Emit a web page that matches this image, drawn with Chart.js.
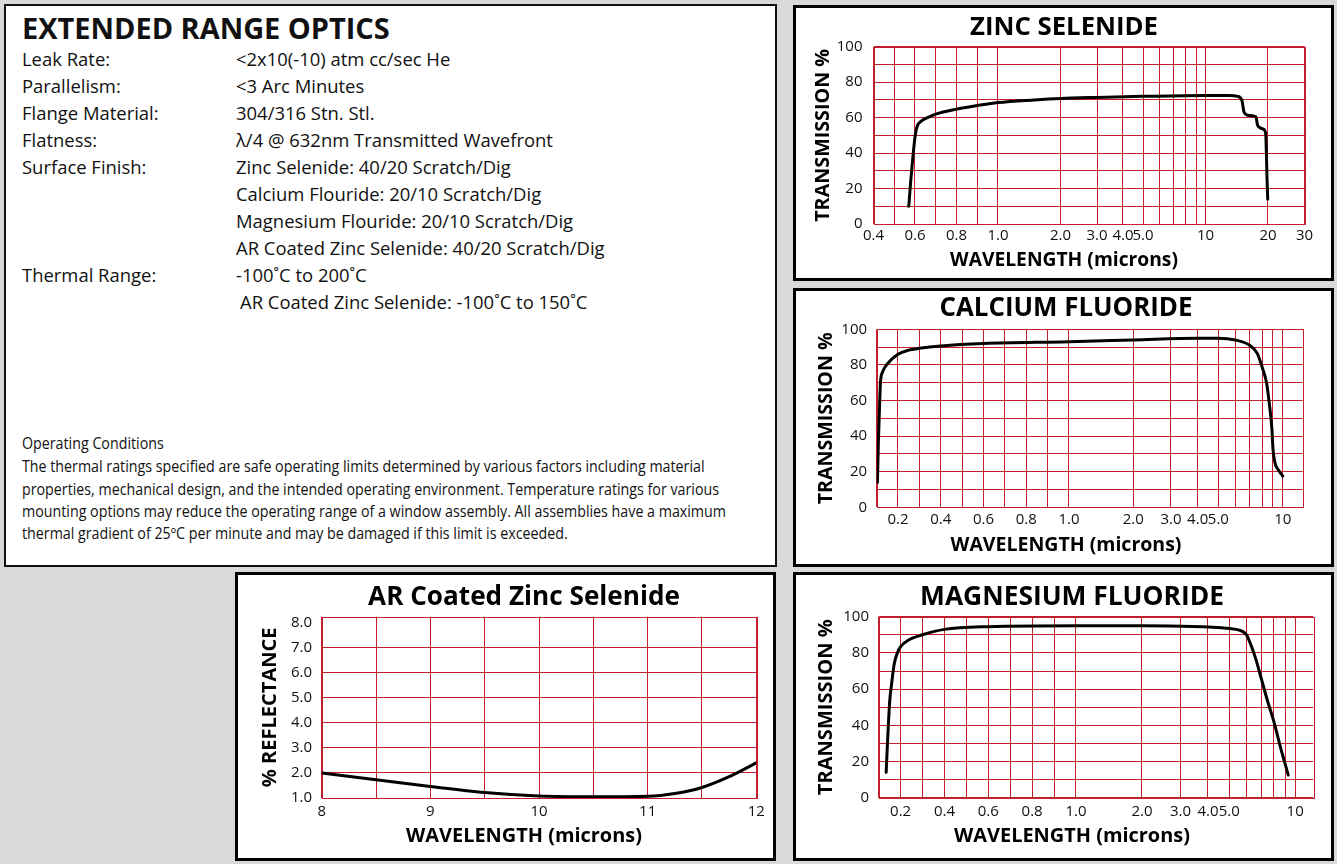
<!DOCTYPE html>
<html lang="en">
<head>
<meta charset="utf-8">
<title>Extended Range Optics</title>
<script src="https://cdn.jsdelivr.net/npm/chart.js@4.4.1/dist/chart.umd.min.js"></script>
<style>
  html, body { margin: 0; padding: 0; }
  body { width: 1337px; height: 864px; background: #d9d9d9; position: relative; overflow: hidden;
         font-family: 'Open Sans', sans-serif; color: #111; }
  .panel { position: absolute; box-sizing: border-box; background: #fff; border: 3px solid #000; }
  .panel canvas { display: block; }
  #specs { left: 4px; top: 4px; width: 773px; height: 563px; border: 2px solid #111; }
  .t { position: absolute; white-space: nowrap; line-height: 28px; height: 28px; }
  .h { font-weight: bold; font-size: 26px; }
  .row { font-size: 18px; }
  .para { font-size: 15.5px; transform-origin: 0 50%; }
</style>
</head>
<body>
<div class="panel" id="specs"></div>
<div class="t h" id="mainTitle" style="left:22px;top:14px">EXTENDED RANGE OPTICS</div>

<div class="t row" style="left:22px;top:45px">Leak Rate:</div>
<div class="t row" style="left:236px;top:45px">&lt;2x10(-10) atm cc/sec He</div>
<div class="t row" style="left:22px;top:72px">Parallelism:</div>
<div class="t row" style="left:236px;top:72px">&lt;3 Arc Minutes</div>
<div class="t row" style="left:22px;top:99px">Flange Material:</div>
<div class="t row" style="left:236px;top:99px">304/316 Stn. Stl.</div>
<div class="t row" style="left:22px;top:126px">Flatness:</div>
<div class="t row" style="left:236px;top:126px">λ/4 @ 632nm Transmitted Wavefront</div>
<div class="t row" style="left:22px;top:153px">Surface Finish:</div>
<div class="t row" style="left:236px;top:153px">Zinc Selenide: 40/20 Scratch/Dig</div>
<div class="t row" style="left:236px;top:180px">Calcium Flouride: 20/10 Scratch/Dig</div>
<div class="t row" style="left:236px;top:207px">Magnesium Flouride: 20/10 Scratch/Dig</div>
<div class="t row" id="refRow" style="left:236px;top:234px">AR Coated Zinc Selenide: 40/20 Scratch/Dig</div>
<div class="t row" style="left:22px;top:261px">Thermal Range:</div>
<div class="t row" style="left:236px;top:261px">-100˚C to 200˚C</div>
<div class="t row" style="left:240px;top:288px">AR Coated Zinc Selenide: -100˚C to 150˚C</div>

<div class="t para" style="left:22px;top:429px">Operating Conditions</div>
<div class="t para" style="left:22px;top:452px">The thermal ratings specified are safe operating limits determined by various factors including material</div>
<div class="t para" style="left:22px;top:474.5px">properties, mechanical design, and the intended operating environment. Temperature ratings for various</div>
<div class="t para" id="refPara" style="left:22px;top:497px">mounting options may reduce the operating range of a window assembly. All assemblies have a maximum</div>
<div class="t para" style="left:22px;top:519px">thermal gradient of 25ºC per minute and may be damaged if this limit is exceeded.</div>

<div class="panel" style="left:793px;top:5px;width:541px;height:276px"><canvas id="znse" width="535" height="270"></canvas></div>
<div class="panel" style="left:793px;top:288px;width:541px;height:279px"><canvas id="caf2" width="535" height="273"></canvas></div>
<div class="panel" style="left:793px;top:572px;width:541px;height:289px"><canvas id="mgf2" width="535" height="283"></canvas></div>
<div class="panel" style="left:235px;top:572px;width:541px;height:289px"><canvas id="arznse" width="535" height="283"></canvas></div>

<script>
// --- data ---
const znseWavelength   = [0.57, 0.58, 0.59, 0.60, 0.61, 0.63, 0.66, 0.70, 0.80, 0.90, 1.0, 1.5, 2.0, 3.0, 5.0, 10, 13, 14.3, 15.0, 15.3, 15.6, 16.2, 17.5, 17.8, 18.2, 19.0, 19.5, 19.65, 19.8, 19.95];
const znseTransmission = [10, 25, 38, 49, 55, 58, 60, 62, 64.8, 66.8, 68.5, 70, 70.8, 71.4, 72, 72.5, 72.5, 72, 69.5, 63.5, 62, 61.2, 60.5, 56, 54.5, 53.5, 51, 40, 25, 14];

const caf2Wavelength   = [0.104, 0.108, 0.112, 0.118, 0.128, 0.15, 0.2, 0.25, 0.3, 0.4, 0.6, 1.0, 2.0, 4.0, 5.0, 6.0, 7.0, 7.6, 8.0, 8.4, 8.65, 8.9, 9.0, 9.2, 9.6, 10.0];
const caf2Transmission = [14, 35, 50, 70, 76, 80.5, 86, 88.3, 89.3, 90.6, 92, 93, 94, 95, 95, 94, 91, 86.5, 79, 70, 58.5, 44, 33, 25, 20.5, 17.5];

const mgf2Wavelength   = [0.134, 0.14, 0.144, 0.15, 0.158, 0.171, 0.185, 0.2, 0.235, 0.3, 0.4, 0.6, 1.0, 2.0, 5.0, 5.6, 6.0, 6.3, 6.6, 7.0, 7.5, 8.0, 8.5, 9.3];
const mgf2Transmission = [14, 30, 40, 53, 62, 74, 80, 83.5, 87, 90, 93, 94.5, 95, 95, 93.5, 92.5, 90, 84, 77, 66, 53, 42, 29.5, 12.5];

const arWavelength  = [8.0, 8.5, 9.0, 9.5, 10.0, 10.5, 11.0, 11.25, 11.5, 11.75, 12.0];
const arReflectance = [2.0, 1.73, 1.46, 1.22, 1.08, 1.05, 1.07, 1.18, 1.42, 1.85, 2.4];

// grid lines and tick labels
const znseGrid       = [0.4, 0.5, 0.6, 0.7, 0.8, 0.9, 1, 2, 3, 4, 5, 6, 7, 8, 9, 10, 20, 30];
const znseTickLabels = [0.4, 0.6, 0.8, 1, 2, 3, 4, 5, 10, 20, 30];
const fluorideGrid       = [0.1, 0.2, 0.3, 0.4, 0.5, 0.6, 0.7, 0.8, 0.9, 1, 2, 3, 4, 5, 6, 7, 8, 9, 10];
const fluorideTickLabels = [0.2, 0.4, 0.6, 0.8, 1, 2, 3, 4, 5, 10];
const transGrid       = [0, 10, 20, 30, 40, 50, 60, 70, 80, 90, 100];
const transTickLabels = [0, 20, 40, 60, 80, 100];
const arXGrid       = [8, 8.5, 9, 9.5, 10, 10.5, 11, 11.5, 12];
const arXTickLabels = [8, 9, 10, 11, 12];
const arYGrid       = [1, 2, 3, 4, 5, 6, 7];
const arYTickLabels = [1, 2, 3, 4, 5, 6, 7, 8];

// --- text panel sizing ---
function fitTo(el, width) {
    const size = parseFloat(getComputedStyle(el).fontSize);
    return size * width / el.getBoundingClientRect().width;
}
const mainTitle = document.getElementById('mainTitle');
mainTitle.style.fontSize = fitTo(mainTitle, 368) + 'px';
const rowSize = fitTo(document.getElementById('refRow'), 369);
document.querySelectorAll('.row').forEach(el => { el.style.fontSize = rowSize + 'px'; });
const squeeze = 704 / document.getElementById('refPara').getBoundingClientRect().width;
document.querySelectorAll('.para').forEach(el => { el.style.transform = 'scaleX(' + squeeze + ')'; });

// --- chart helpers ---
const RED = '#c41f2e';
const FONT = "'Open Sans', sans-serif";
const TICK = 15;
const meas = document.createElement('canvas').getContext('2d');

function fitSize(text, weight, width) {
    meas.font = weight + ' 100px ' + FONT;
    return 100 * width / meas.measureText(text).width;
}

// linear below 1 micron, logarithmic above (like the printed charts)
const warp = v => (v < 1 ? v - 1 : Math.log10(v));
class WarpScale extends Chart.LinearScale {
    getPixelForValue(value) {
        const a = warp(this.min), b = warp(this.max);
        return this.getPixelForDecimal((warp(value) - a) / (b - a));
    }
    getValueForPixel(pixel) {
        const a = warp(this.min), b = warp(this.max);
        const w = a + this.getDecimalForPixel(pixel) * (b - a);
        return w < 0 ? w + 1 : Math.pow(10, w);
    }
}
WarpScale.id = 'warp';
WarpScale.defaults = {};
Chart.register(WarpScale);

const framePlugin = {
    id: 'frame',
    beforeDatasetsDraw(chart) {
        const { left, top, right, bottom } = chart.chartArea;
        const ctx = chart.ctx;
        ctx.save();
        ctx.strokeStyle = RED;
        ctx.lineWidth = 1;
        ctx.strokeRect(Math.round(left) + 0.5, Math.round(top) + 0.5, Math.round(right - left), Math.round(bottom - top));
        ctx.restore();
    }
};

function axis(type, grid, labels, fmt, range) {
    const ticks = Array.from(new Set([...grid, ...labels])).sort((a, b) => a - b);
    return {
        type: type,
        min: range[0],
        max: range[1],
        afterBuildTicks: s => { s.ticks = ticks.map(v => ({ value: v })); },
        grid: {
            color: c => (c.tick && grid.includes(c.tick.value) ? RED : 'rgba(0,0,0,0)'),
            lineWidth: 1,
            drawTicks: false
        },
        border: { display: false },
        ticks: {
            autoSkip: false,
            maxRotation: 0,
            color: '#111',
            font: { family: FONT, size: TICK },
            callback: v => (labels.includes(v) ? fmt(v) : '')
        }
    };
}

function panelChart(id, spec, box) {
    const canvas = document.getElementById(id);
    const W = canvas.width, H = canvas.height;
    const titleSize = fitSize(spec.title, 'bold', box.titleW);
    const xTitleSize = fitSize(spec.xTitle, 'bold', box.xTitleW);
    const yTitleSize = fitSize(spec.yTitle, 'bold', box.yTitleW);
    const padL = Math.max(0, 2 * box.cx - W);
    const padR = Math.max(0, W - 2 * box.cx);
    const tLH = titleSize * 1.2, xLH = xTitleSize * 1.2, yLH = yTitleSize * 1.2;

    const x = axis(spec.xType, spec.xGrid, spec.xLabels, spec.xFmt, spec.xRange);
    x.position = 'bottom';
    x.ticks.padding = box.xLabelY - box.b - TICK * 0.6;
    x.afterFit = s => { s.height = box.xTitleY - xLH / 2 - box.b; };

    const y = axis('linear', spec.yGrid, spec.yLabels, spec.yFmt, spec.yRange);
    y.position = 'left';
    y.ticks.padding = box.yLabelPad;
    y.title = {
        display: true, text: spec.yTitle, color: '#000',
        font: { family: FONT, size: yTitleSize, weight: 'bold', lineHeight: 1.2 },
        padding: { top: box.yTitleX - padL - yLH / 2, bottom: 0 }
    };
    y.afterFit = s => { s.width = box.l - padL; };

    new Chart(canvas, {
        type: 'line',
        data: {
            datasets: [{
                label: spec.title,
                data: spec.xs.map((v, i) => ({ x: v, y: spec.ys[i] })),
                borderColor: '#000',
                borderWidth: 3,
                pointRadius: 0,
                cubicInterpolationMode: 'monotone',
                borderCapStyle: 'round',
                borderJoinStyle: 'round'
            }]
        },
        options: {
            responsive: false,
            animation: false,
            events: [],
            layout: { padding: { left: padL, right: padR, top: 0, bottom: 0 } },
            plugins: {
                legend: { display: false },
                tooltip: { enabled: false },
                title: {
                    display: true, text: spec.title, color: '#000',
                    font: { family: FONT, size: titleSize, weight: 'bold', lineHeight: 1.2 },
                    padding: { top: box.titleY - tLH / 2, bottom: box.t - box.titleY - tLH / 2 }
                },
                subtitle: {
                    display: true, position: 'bottom', text: spec.xTitle, color: '#000',
                    font: { family: FONT, size: xTitleSize, weight: 'bold', lineHeight: 1.2 },
                    padding: { top: 0, bottom: H - box.xTitleY - xLH / 2 }
                }
            },
            scales: {
                x: x,
                y: y,
                edge: {
                    type: 'linear', position: 'right', display: true,
                    grid: { display: false }, ticks: { display: false }, border: { display: false },
                    afterFit: s => { s.width = W - padR - box.r; }
                }
            }
        },
        plugins: [framePlugin]
    });
}

const micron = v => (v < 10 ? v.toFixed(1) : String(v));
const plain = v => String(v);
const oneDec = v => v.toFixed(1);

panelChart('znse', {
    title: 'ZINC SELENIDE', xTitle: 'WAVELENGTH (microns)', yTitle: 'TRANSMISSION %',
    xs: znseWavelength, ys: znseTransmission,
    xType: 'warp', xRange: [0.4, 30], xGrid: znseGrid, xLabels: znseTickLabels, xFmt: micron,
    yRange: [0, 100], yGrid: transGrid, yLabels: transTickLabels, yFmt: plain
}, { l: 77.5, r: 508.5, t: 38.7, b: 216, cx: 268, titleY: 20, titleW: 188,
     xLabelY: 228, xTitleY: 253, xTitleW: 228, yTitleX: 27, yTitleW: 173, yLabelPad: 11 });

panelChart('caf2', {
    title: 'CALCIUM FLUORIDE', xTitle: 'WAVELENGTH (microns)', yTitle: 'TRANSMISSION %',
    xs: caf2Wavelength, ys: caf2Transmission,
    xType: 'warp', xRange: [0.1, 12.4], xGrid: fluorideGrid, xLabels: fluorideTickLabels, xFmt: micron,
    yRange: [0, 100], yGrid: transGrid, yLabels: transTickLabels, yFmt: plain
}, { l: 80.6, r: 506.7, t: 38.3, b: 216.3, cx: 270, titleY: 18, titleW: 253,
     xLabelY: 229, xTitleY: 254, xTitleW: 231, yTitleX: 30, yTitleW: 172, yLabelPad: 9.5 });

panelChart('mgf2', {
    title: 'MAGNESIUM FLUORIDE', xTitle: 'WAVELENGTH (microns)', yTitle: 'TRANSMISSION %',
    xs: mgf2Wavelength, ys: mgf2Transmission,
    xType: 'warp', xRange: [0.1, 12.1], xGrid: fluorideGrid, xLabels: fluorideTickLabels, xFmt: micron,
    yRange: [0, 100], yGrid: transGrid, yLabels: transTickLabels, yFmt: plain
}, { l: 82.7, r: 517.3, t: 41.7, b: 222.7, cx: 276, titleY: 22.5, titleW: 304,
     xLabelY: 236.7, xTitleY: 261.7, xTitleW: 236, yTitleX: 30.7, yTitleW: 176, yLabelPad: 9.7 });

panelChart('arznse', {
    title: 'AR Coated Zinc Selenide', xTitle: 'WAVELENGTH (microns)', yTitle: '% REFLECTANCE',
    xs: arWavelength, ys: arReflectance,
    xType: 'linear', xRange: [8, 12], xGrid: arXGrid, xLabels: arXTickLabels, xFmt: plain,
    yRange: [1, 8.23], yGrid: arYGrid, yLabels: arYTickLabels, yFmt: oneDec
}, { l: 83.7, r: 518.3, t: 41.7, b: 223, cx: 286, titleY: 22.5, titleW: 312,
     xLabelY: 236.7, xTitleY: 261.7, xTitleW: 236, yTitleX: 32.7, yTitleW: 160, yLabelPad: 9.7 });
</script>
</body>
</html>
